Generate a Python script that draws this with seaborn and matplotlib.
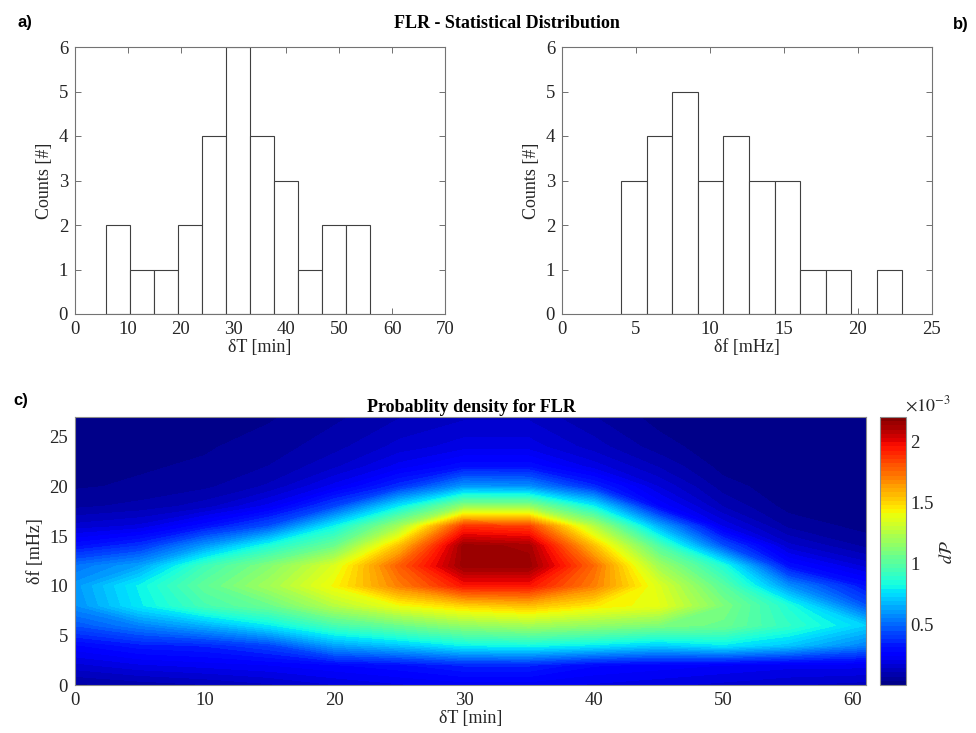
import numpy as np
import matplotlib
matplotlib.use("Agg")
import matplotlib.pyplot as plt
import seaborn as sns

# --- histogram a): delta T [min]
dT_edges = [5.87, 10.41, 14.96, 19.5, 24.05, 28.6, 33.15, 37.7, 42.2, 46.75, 51.3, 55.85]
dT_counts = [2, 1, 1, 2, 4, 6, 4, 3, 1, 2, 2]

# --- histogram b): delta f [mHz]
df_edges = [4.0, 5.73, 7.45, 9.18, 10.9, 12.64, 14.37, 16.1, 17.82, 19.55, 21.27, 23.0]
df_counts = [3, 4, 5, 3, 4, 3, 3, 1, 1, 0, 1]

# --- probability density (units of 1e-3), one list per dT column, bottom -> top in dF
pdf_dT = [0, 5, 10, 15, 20, 25, 30, 35, 40, 45, 50, 55, 61]
pdf_df = [0, 2, 4, 6, 8, 10, 12, 14, 16, 18, 20, 22, 24, 27]
pdf_cols = {
    0:  [0.06, 0.16, 0.27, 0.45, 0.58, 0.60, 0.52, 0.30, 0.15, 0.06, 0.03, 0.02, 0.02, 0.01],
    5:  [0.08, 0.20, 0.33, 0.55, 0.78, 0.80, 0.62, 0.38, 0.18, 0.08, 0.04, 0.03, 0.02, 0.01],
    10: [0.10, 0.22, 0.35, 0.65, 0.95, 1.02, 0.93, 0.60, 0.30, 0.12, 0.06, 0.04, 0.03, 0.02],
    15: [0.13, 0.24, 0.42, 0.78, 1.05, 1.20, 1.12, 0.85, 0.45, 0.22, 0.11, 0.07, 0.05, 0.03],
    20: [0.17, 0.27, 0.62, 0.95, 1.25, 1.42, 1.35, 1.05, 0.80, 0.42, 0.22, 0.13, 0.09, 0.06],
    25: [0.20, 0.30, 0.70, 1.05, 1.40, 1.70, 1.78, 1.55, 1.20, 0.78, 0.37, 0.22, 0.15, 0.10],
    30: [0.22, 0.35, 0.80, 1.15, 1.50, 1.95, 2.15, 2.15, 1.88, 1.15, 0.60, 0.30, 0.19, 0.13],
    35: [0.22, 0.35, 0.82, 1.20, 1.55, 1.95, 2.15, 2.12, 1.85, 1.15, 0.58, 0.30, 0.19, 0.13],
    40: [0.20, 0.28, 0.78, 1.15, 1.45, 1.70, 1.75, 1.55, 1.25, 0.80, 0.36, 0.19, 0.12, 0.07],
    45: [0.18, 0.26, 0.72, 1.10, 1.38, 1.35, 1.20, 0.98, 0.65, 0.27, 0.17, 0.10, 0.05, 0.02],
    50: [0.16, 0.24, 0.78, 1.05, 1.10, 1.00, 0.85, 0.45, 0.20, 0.10, 0.05, 0.02, 0.01, 0.01],
    55: [0.14, 0.22, 0.70, 0.90, 0.85, 0.58, 0.30, 0.15, 0.06, 0.02, 0.01, 0.01, 0.01, 0.01],
    61: [0.12, 0.22, 0.55, 0.72, 0.45, 0.30, 0.16, 0.06, 0.02, 0.01, 0.01, 0.01, 0.01, 0.01],
}

sns.set_style("ticks")
plt.rcParams["font.family"] = ["Liberation Serif", "DejaVu Serif"]
plt.rcParams["mathtext.fontset"] = "stix"
plt.rcParams["font.size"] = 13

TICK = 13.5
LABEL = 13

fig = plt.figure(figsize=(9.76, 7.33), dpi=100)
W, H = 976.0, 733.0


def box(l, t, r, b):
    return [l / W, 1 - b / H, (r - l) / W, (b - t) / H]


ax1 = fig.add_axes(box(75, 47, 445, 314))
ax2 = fig.add_axes(box(562, 47, 932, 314))
ax3 = fig.add_axes(box(75, 417, 866, 685))
cax = fig.add_axes(box(880, 417, 906, 685))

edge = "0.25"
for ax, edges, counts, xlim, xt, xl in [
    (ax1, dT_edges, dT_counts, (0, 70), range(0, 71, 10), "δT [min]"),
    (ax2, df_edges, df_counts, (0, 25), range(0, 26, 5), "δf [mHz]"),
]:
    centers = [(a + b) / 2 for a, b in zip(edges[:-1], edges[1:])]
    sns.histplot(x=centers, weights=counts, bins=edges, ax=ax, color="white",
                 edgecolor=edge, linewidth=0.8, alpha=1)
    ax.set_xlim(*xlim)
    ax.set_ylim(0, 6)
    ax.set_xticks(list(xt))
    ax.set_yticks(range(0, 7))
    ax.set_xlabel(xl, fontsize=LABEL, labelpad=1)
    ax.set_ylabel("Counts [#]", fontsize=LABEL, labelpad=4)
    for s in ax.spines.values():
        s.set_color("0.45")
        s.set_linewidth(0.8)
        s.set_visible(True)
    ax.tick_params(direction="in", top=True, right=True, length=4, width=0.6,
                   color="0.35", labelsize=TICK, pad=5)

# density map
Z = np.array([pdf_cols[x] for x in pdf_dT]).T
levels = np.linspace(0, 2.2, 65)
cs = ax3.contourf(pdf_dT, pdf_df, Z, levels=levels, cmap="jet", vmin=0, vmax=2.2)
ax3.set_xlim(0, 61)
ax3.set_ylim(0, 27)
ax3.set_xticks(range(0, 61, 10))
ax3.set_yticks(range(0, 26, 5))
ax3.set_xlabel("δT [min]", fontsize=LABEL, labelpad=1)
ax3.set_ylabel("δf [mHz]", fontsize=LABEL, labelpad=4)
ax3.tick_params(direction="in", length=3, width=0.6, color="0.35", labelsize=TICK, pad=5)
for s in ax3.spines.values():
    s.set_color("0.55")
    s.set_linewidth(0.8)

cb = fig.colorbar(cs, cax=cax)
cb.set_ticks([0.5, 1, 1.5, 2])
cb.set_ticklabels(["0.5", "1", "1.5", "2"])
cax.tick_params(direction="in", length=3, width=0.6, color="0.2", labelsize=TICK, pad=3)
cb.outline.set_edgecolor("0.55")
cb.outline.set_linewidth(0.8)

# texts
fig.text(507 / W, 1 - 28 / H, "FLR - Statistical Distribution", ha="center",
         va="baseline", fontsize=13, fontweight="bold", color="black")
fig.text(471 / W, 1 - 412 / H, "Probablity density for FLR", ha="center",
         va="baseline", fontsize=13, fontweight="bold", color="black")
lab = dict(fontsize=12, fontweight="bold", family=["Liberation Sans", "DejaVu Sans"],
           va="center", ha="left", color="black")
fig.text(18 / W, 1 - 22 / H, "a)", **lab)
fig.text(953 / W, 1 - 24 / H, "b)", **lab)
fig.text(13 / W, 1 - 400 / H, "c)", **lab)
fig.text(905 / W, 1 - 411 / H, r"$\times10^{-3}$", ha="left", va="baseline", fontsize=13)
fig.text(948 / W, 1 - 552 / H, r"$d\mathcal{P}$", ha="center", va="center",
         rotation=90, fontsize=13)

fig.savefig("out.png", dpi=100)
